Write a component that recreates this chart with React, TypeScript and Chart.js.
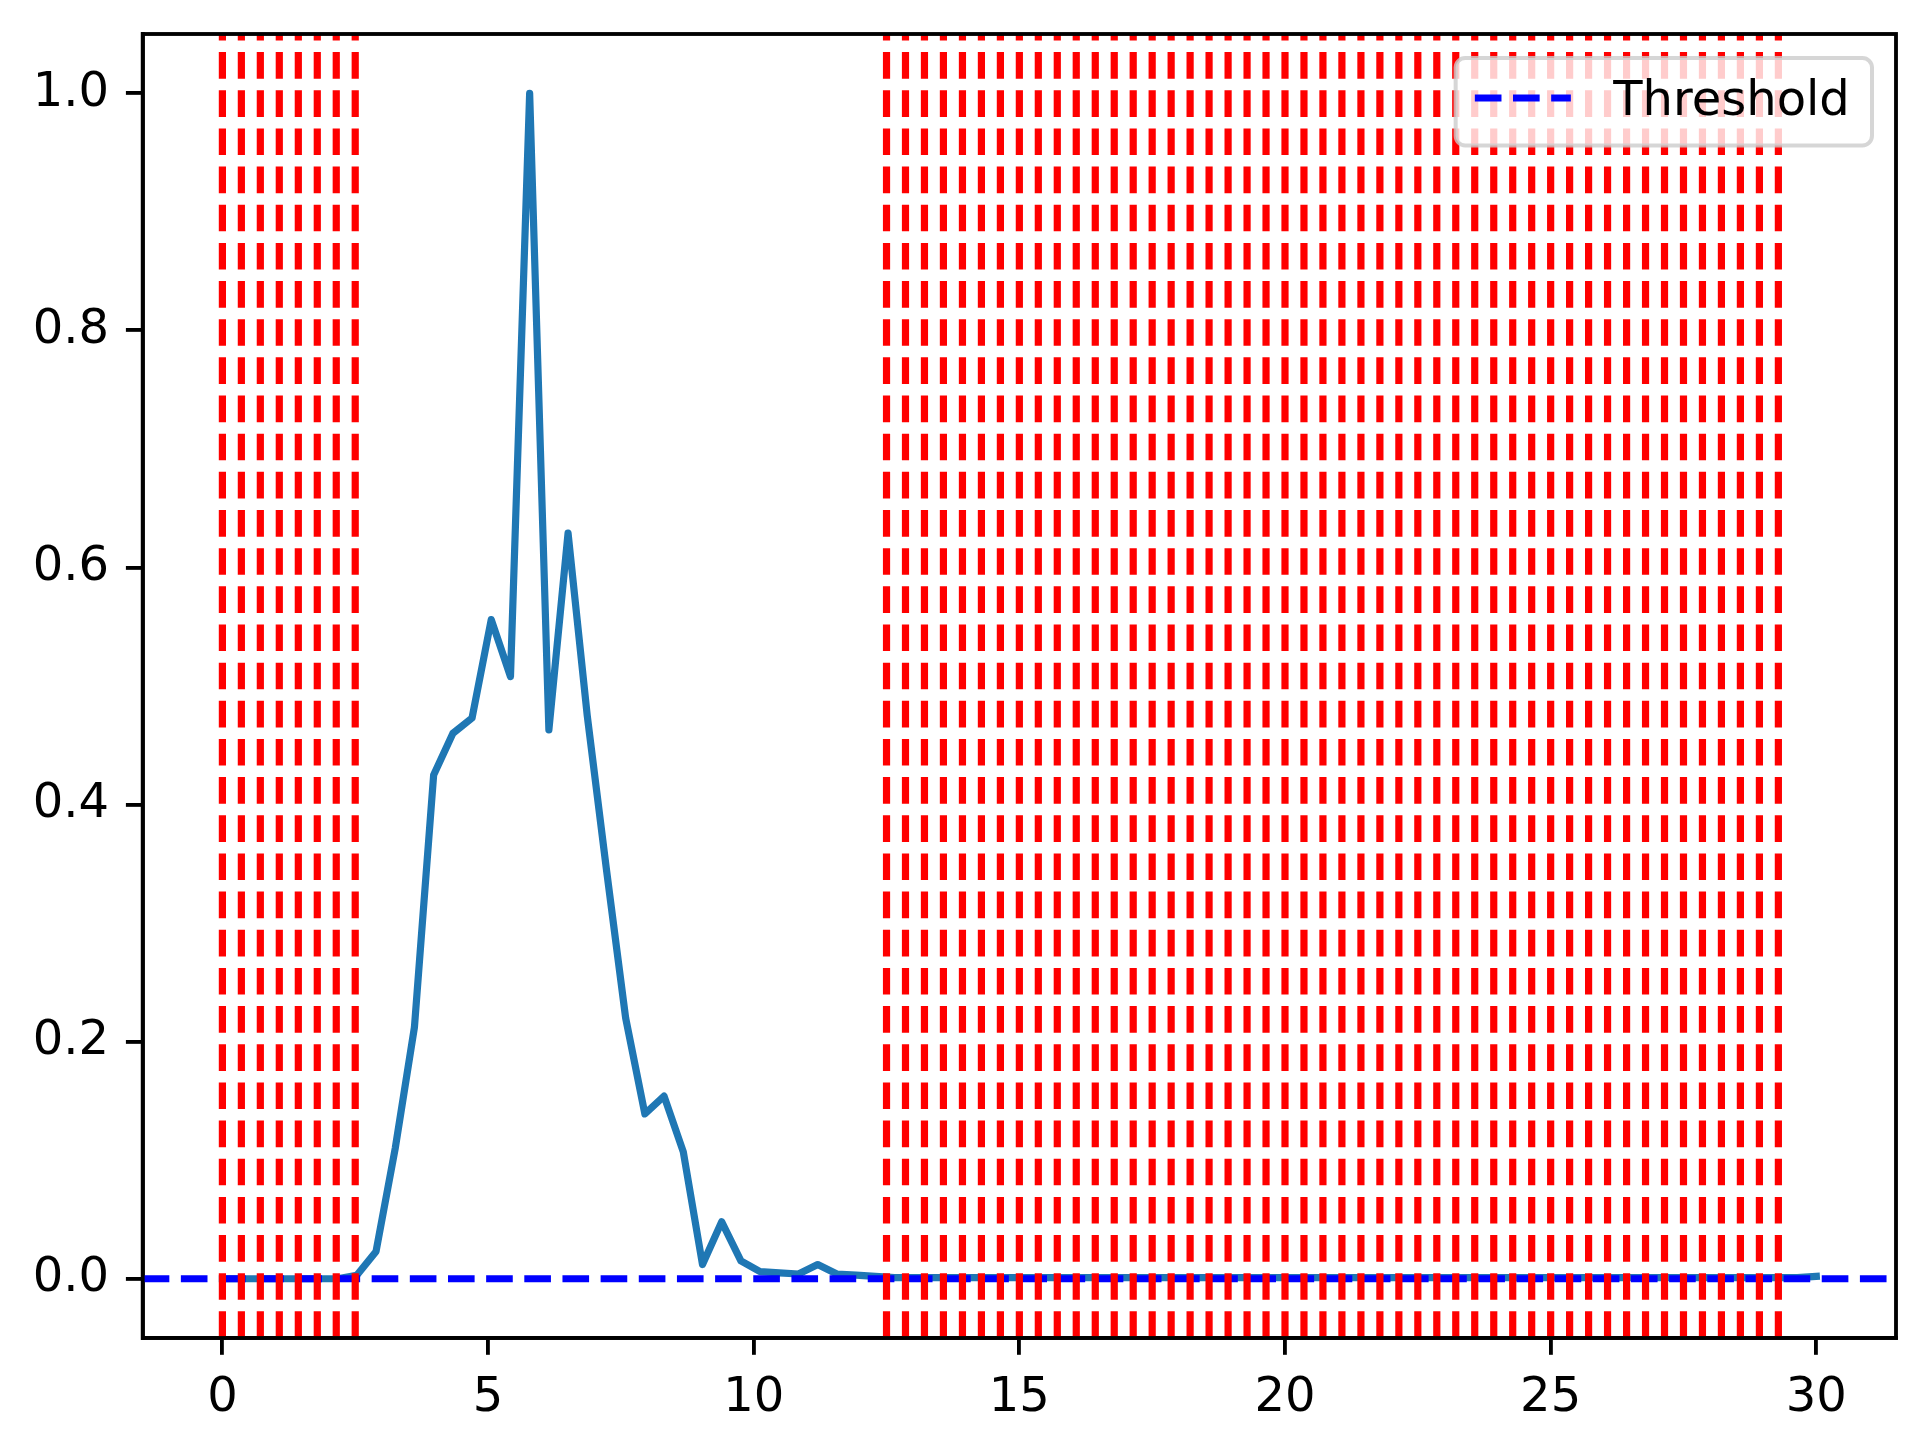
import { useEffect, useRef } from "react";
import { Chart, registerables } from "chart.js";

Chart.register(...registerables);

// ---------- data ----------
const xValues = [
  0, 0.361, 0.723, 1.084, 1.446, 1.807, 2.169, 2.53, 2.892, 3.253,
  3.614, 3.976, 4.337, 4.699, 5.06, 5.422, 5.783, 6.145, 6.506, 6.867,
  7.229, 7.59, 7.952, 8.313, 8.675, 9.036, 9.398, 9.759, 10.12, 10.482,
  10.843, 11.205, 11.566, 11.928, 12.289, 12.651, 13.012, 13.373, 13.735, 14.096,
  14.458, 14.819, 15.181, 15.542, 15.904, 16.265, 16.627, 16.988, 17.349, 17.711,
  18.072, 18.434, 18.795, 19.157, 19.518, 19.88, 20.241, 20.602, 20.964, 21.325,
  21.687, 22.048, 22.41, 22.771, 23.133, 23.494, 23.855, 24.217, 24.578, 24.94,
  25.301, 25.663, 26.024, 26.386, 26.747, 27.108, 27.47, 27.831, 28.193, 28.554,
  28.916, 29.277, 29.639, 30.0,
];

const signalValues = [
  0, 0, 0, 0, 0, 0, 0, 0.003, 0.023, 0.11,
  0.212, 0.425, 0.46, 0.473, 0.556, 0.508, 1.0, 0.463, 0.629, 0.475,
  0.345, 0.22, 0.139, 0.154, 0.107, 0.012, 0.048, 0.015, 0.006, 0.005,
  0.004, 0.012, 0.004, 0.003, 0.002, 0.001, 0.001, 0.001, 0.001, 0.001,
  0.001, 0.001, 0.001, 0.001, 0.001, 0.001, 0.001, 0.001, 0.001, 0.001,
  0.001, 0.001, 0.001, 0.001, 0.001, 0.001, 0.001, 0.001, 0.001, 0.001,
  0.001, 0.001, 0.001, 0.001, 0.001, 0.001, 0.001, 0.001, 0.001, 0.001,
  0.001, 0.001, 0.001, 0.001, 0.001, 0.001, 0.001, 0.001, 0.001, 0.001,
  0.001, 0.001, 0.001, 0.002,
];

const thresholdValue = 0;
const thresholdLabel = "Threshold";

const markerLineX = [
  0, 0.357, 0.714, 1.071, 1.429, 1.786, 2.143, 2.5,
  12.5, 12.857, 13.214, 13.571, 13.929, 14.286, 14.643, 15.0, 15.357, 15.714,
  16.071, 16.429, 16.786, 17.143, 17.5, 17.857, 18.214, 18.571, 18.929, 19.286,
  19.643, 20.0, 20.357, 20.714, 21.071, 21.429, 21.786, 22.143, 22.5, 22.857,
  23.214, 23.571, 23.929, 24.286, 24.643, 25.0, 25.357, 25.714, 26.071, 26.429,
  26.786, 27.143, 27.5, 27.857, 28.214, 28.571, 28.929, 29.286,
];

const xTickValues = [0, 5, 10, 15, 20, 25, 30];
const yTickValues = [0, 0.2, 0.4, 0.6, 0.8, 1.0];
const xLimits = [-1.5, 31.5];
const yLimits = [-0.05, 1.05];

// ---------- styling ----------
const PT = 4.8; // px per point
const FONT_SIZE = 10 * PT;
const LW = 1.5 * PT;
const DASH = [3.7 * LW, 1.6 * LW];
const FONT_FAMILY = "DejaVu Sans";

const frameAndLegend = {
  id: "frameAndLegend",
  afterDraw(chart: any) {
    const { ctx, chartArea: a } = chart;
    ctx.save();
    ctx.strokeStyle = "#000000";
    ctx.lineWidth = 0.8 * PT;
    ctx.strokeRect(a.left, a.top, a.right - a.left, a.bottom - a.top);

    // legend (upper right)
    const fs = FONT_SIZE;
    ctx.font = `${fs}px "${FONT_FAMILY}"`;
    const tw = ctx.measureText(thresholdLabel).width;
    const pad = 0.4 * fs;
    const handleLen = 2 * fs;
    const textPad = 0.8 * fs + 4;
    const w = pad + handleLen + textPad + tw + pad + 3;
    const h = 2 * pad + 49;
    const right = a.right - 0.5 * fs;
    const top = a.top + 0.5 * fs;
    const left = right - w;
    ctx.beginPath();
    ctx.roundRect(left, top, w, h, 0.2 * fs);
    ctx.fillStyle = "rgba(255,255,255,0.8)";
    ctx.fill();
    ctx.strokeStyle = "rgba(204,204,204,0.8)";
    ctx.lineWidth = 4;
    ctx.stroke();

    const ds = chart.data.datasets.find((d: any) => d.label === thresholdLabel);
    const hy = top + 40;
    ctx.beginPath();
    ctx.setLineDash(ds.borderDash);
    ctx.lineCap = "butt";
    ctx.strokeStyle = ds.borderColor;
    ctx.lineWidth = ds.borderWidth;
    ctx.moveTo(left + pad, hy);
    ctx.lineTo(left + pad + handleLen, hy);
    ctx.stroke();
    ctx.setLineDash([]);

    ctx.fillStyle = "#000000";
    ctx.textAlign = "left";
    ctx.textBaseline = "alphabetic";
    ctx.fillText(thresholdLabel, left + pad + handleLen + textPad, top + 57);
    ctx.restore();
  },
};

export default function App() {
  const canvasRef = useRef<HTMLCanvasElement | null>(null);

  useEffect(() => {
    if (!canvasRef.current) return;
    const curve = {
      label: "signal",
      data: xValues.map((x, i) => ({ x, y: signalValues[i] })),
      borderColor: "#1f77b4",
      borderWidth: LW,
      pointRadius: 0,
      tension: 0,
      borderJoinStyle: "round" as const,
      borderCapStyle: "square" as const,
      fill: false,
      order: 3,
    };
    const threshold = {
      label: thresholdLabel,
      data: [
        { x: xLimits[0], y: thresholdValue },
        { x: xLimits[1], y: thresholdValue },
      ],
      borderColor: "#0000ff",
      borderWidth: LW,
      borderDash: DASH,
      borderCapStyle: "butt" as const,
      pointRadius: 0,
      fill: false,
      order: 2,
    };
    const markers = markerLineX.map((x) => ({
      label: "marker",
      data: [
        { x, y: yLimits[0] },
        { x, y: yLimits[1] },
      ],
      borderColor: "#ff0000",
      borderWidth: LW,
      borderDash: DASH,
      borderCapStyle: "butt" as const,
      pointRadius: 0,
      fill: false,
      order: 1,
    }));

    const axisCommon = (size: number) => ({
      grid: {
        display: true,
        drawOnChartArea: false,
        drawTicks: true,
        tickLength: 3.5 * PT,
        tickWidth: 0.8 * PT,
        tickColor: "#000000",
        lineWidth: 0.8 * PT,
        color: "#000000",
      },
      border: { display: true, color: "#000000", width: 0.8 * PT },
      ticks: {
        color: "#000000",
        font: { size, family: FONT_FAMILY },
        autoSkip: false,
        maxRotation: 0,
        minRotation: 0,
      },
    });

    const xAxis: any = axisCommon(FONT_SIZE);
    xAxis.type = "linear";
    xAxis.min = xLimits[0];
    xAxis.max = xLimits[1];
    xAxis.ticks.padding = 15;
    xAxis.ticks.callback = (v: number) => String(v);
    xAxis.afterBuildTicks = (s: any) => {
      s.ticks = xTickValues.map((v) => ({ value: v }));
    };
    xAxis.afterFit = (s: any) => {
      s.height = 102;
      s.paddingLeft = 0;
      s.paddingRight = 0;
    };

    const yAxis: any = axisCommon(FONT_SIZE);
    yAxis.type = "linear";
    yAxis.min = yLimits[0];
    yAxis.max = yLimits[1];
    yAxis.ticks.padding = 3.5 * PT;
    yAxis.ticks.callback = (v: number) => Number(v).toFixed(1);
    yAxis.afterBuildTicks = (s: any) => {
      s.ticks = yTickValues.map((v) => ({ value: v }));
    };
    yAxis.afterFit = (s: any) => {
      s.width = 142.7;
      s.paddingTop = 0;
      s.paddingBottom = 0;
    };

    const chart = new Chart(canvasRef.current, {
      type: "line",
      data: { datasets: [curve, threshold, ...markers] as any },
      options: {
        animation: false,
        responsive: false,
        devicePixelRatio: 1,
        events: [],
        layout: { padding: { top: 34, right: 29, left: 0, bottom: 0 } },
        plugins: {
          legend: { display: false },
          tooltip: { enabled: false },
        },
        scales: { x: xAxis, y: yAxis },
      },
      plugins: [frameAndLegend],
    });
    return () => chart.destroy();
  }, []);

  return (
    <canvas
      ref={canvasRef}
      width={1925}
      height={1440}
      style={{ position: "absolute", left: 0, top: 0, width: 1925, height: 1440, background: "#ffffff" }}
    />
  );
}
